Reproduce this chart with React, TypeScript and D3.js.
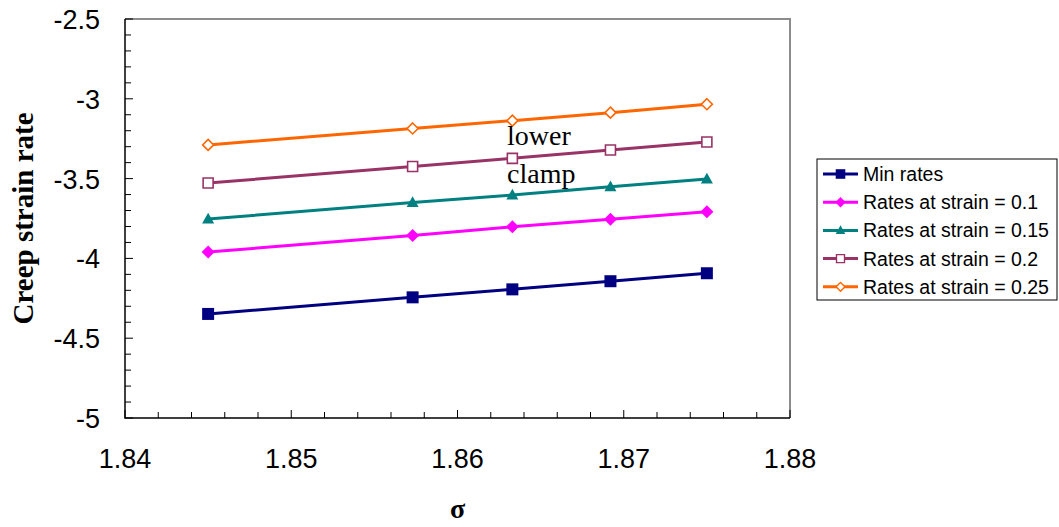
import React, { useRef, useEffect } from 'react';
import * as d3 from 'd3';

// sigma values on the x axis
const sigma = [1.845, 1.8573, 1.8633, 1.8692, 1.875];

// log creep strain rates, one array per series
const minRates = [-4.348, -4.244, -4.194, -4.143, -4.093];
const rates01 = [-3.96, -3.857, -3.802, -3.755, -3.707];
const rates015 = [-3.753, -3.65, -3.603, -3.551, -3.503];
const rates02 = [-3.528, -3.424, -3.373, -3.321, -3.271];
const rates025 = [-3.289, -3.186, -3.137, -3.087, -3.034];

const seriesNames = [
  'Min rates',
  'Rates at strain = 0.1',
  'Rates at strain = 0.15',
  'Rates at strain = 0.2',
  'Rates at strain = 0.25',
];

const xTicks = [1.84, 1.85, 1.86, 1.87, 1.88];
const yTicks = [-5, -4.5, -4, -3.5, -3, -2.5];

// marker outlines centred on 0,0
const markerPath = (shape, r) => {
  if (shape === 'square') return `M${-r},${-r}h${2 * r}v${2 * r}h${-2 * r}Z`;
  if (shape === 'diamond') return `M0,${-r}L${r},0L0,${r}L${-r},0Z`;
  return `M0,${-r * 1.05}L${r},${r * 0.75}L${-r},${r * 0.75}Z`;
};

const App = () => {
  const svgRef = useRef<SVGSVGElement>(null);

  useEffect(() => {
    const svg = d3.select(svgRef.current);
    svg.selectAll('*').remove();

    const left = 125, right = 790, top = 19, bottom = 418;

    const x = d3.scaleLinear().domain([1.84, 1.88]).range([left, right]);
    const y = d3.scaleLinear().domain([-5, -2.5]).range([bottom, top]);

    const series = [
      { name: seriesNames[0], values: minRates, color: '#000080', shape: 'square', filled: true, r: 6 },
      { name: seriesNames[1], values: rates01, color: '#FF00FF', shape: 'diamond', filled: true, r: 6.5 },
      { name: seriesNames[2], values: rates015, color: '#008080', shape: 'triangle', filled: true, r: 6 },
      { name: seriesNames[3], values: rates02, color: '#993366', shape: 'square', filled: false, r: 5 },
      { name: seriesNames[4], values: rates025, color: '#FF6600', shape: 'diamond', filled: false, r: 5.5 },
    ];

    // plot area frame (top / right in grey)
    svg.append('path')
      .attr('d', `M${left},${top}H${right}V${bottom}`)
      .attr('fill', 'none')
      .attr('stroke', '#8c8c8c')
      .attr('stroke-width', 2);

    // minor + major ticks, drawn inward
    const xMinor = d3.range(0, 21).map(i => 1.84 + i * 0.002);
    const yMinor = d3.range(0, 26).map(i => -5 + i * 0.1);

    svg.append('g')
      .selectAll('line')
      .data(xMinor)
      .enter()
      .append('line')
      .attr('x1', d => x(d))
      .attr('x2', d => x(d))
      .attr('y1', bottom)
      .attr('y2', (d, i) => bottom - (i % 5 === 0 ? 8 : 6))
      .attr('stroke', '#000')
      .attr('stroke-width', 1);

    svg.append('g')
      .selectAll('line')
      .data(yMinor)
      .enter()
      .append('line')
      .attr('x1', left)
      .attr('x2', (d, i) => left + (i % 5 === 0 ? 8 : 6))
      .attr('y1', d => y(d))
      .attr('y2', d => y(d))
      .attr('stroke', '#000')
      .attr('stroke-width', 1);

    // axis lines
    svg.append('path')
      .attr('d', `M${left},${top}V${bottom}H${right}`)
      .attr('fill', 'none')
      .attr('stroke', '#000')
      .attr('stroke-width', 1.5);

    // tick labels
    svg.append('g')
      .selectAll('text')
      .data(xTicks)
      .enter()
      .append('text')
      .attr('x', d => x(d))
      .attr('y', bottom + 50)
      .attr('text-anchor', 'middle')
      .style('font-family', 'Liberation Sans, Arial, sans-serif')
      .style('font-size', '27px')
      .text(d => d3.format('.2f')(d));

    svg.append('g')
      .selectAll('text')
      .data(yTicks)
      .enter()
      .append('text')
      .attr('x', left - 25)
      .attr('y', d => y(d) + 10)
      .attr('text-anchor', 'end')
      .style('font-family', 'Liberation Sans, Arial, sans-serif')
      .style('font-size', '27px')
      .text(d => String(d));

    // axis titles
    svg.append('text')
      .attr('transform', `translate(33,${(top + bottom) / 2}) rotate(-90)`)
      .attr('text-anchor', 'middle')
      .style('font-family', 'Liberation Serif, Times New Roman, serif')
      .style('font-weight', 'bold')
      .style('font-size', '29px')
      .text('Creep strain rate');

    svg.append('text')
      .attr('x', (left + right) / 2)
      .attr('y', 518)
      .attr('text-anchor', 'middle')
      .style('font-family', 'Liberation Serif, Times New Roman, serif')
      .style('font-weight', 'bold')
      .style('font-size', '28px')
      .text('σ');

    // series lines and markers
    const line = d3.line<number>()
      .x((d, i) => x(sigma[i]))
      .y(d => y(d));

    series.forEach(s => {
      svg.append('path')
        .attr('d', line(s.values))
        .attr('fill', 'none')
        .attr('stroke', s.color)
        .attr('stroke-width', 3);

      svg.append('g')
        .selectAll('path')
        .data(s.values)
        .enter()
        .append('path')
        .attr('transform', (d, i) => `translate(${x(sigma[i])},${y(d)})`)
        .attr('d', markerPath(s.shape, s.r))
        .attr('fill', s.filled ? s.color : '#fff')
        .attr('stroke', s.color)
        .attr('stroke-width', s.filled ? 0 : 1.6);
    });

    // annotations
    const note = svg.append('g')
      .style('font-family', 'Liberation Serif, Times New Roman, serif')
      .style('font-size', '28px');
    note.append('text').attr('x', 507).attr('y', 145).text('lower');
    note.append('text').attr('x', 507).attr('y', 183).text('clamp');

    // legend
    const legend = svg.append('g').attr('transform', 'translate(817,159)');
    legend.append('rect')
      .attr('width', 240)
      .attr('height', 141)
      .attr('fill', '#fff')
      .attr('stroke', '#000')
      .attr('stroke-width', 1);

    const items = legend.selectAll('.legend-item')
      .data(series)
      .enter()
      .append('g')
      .attr('class', 'legend-item')
      .attr('transform', (d, i) => `translate(0,${15 + i * 28.2})`);

    items.append('line')
      .attr('x1', 6)
      .attr('x2', 41)
      .attr('stroke', d => d.color)
      .attr('stroke-width', 3);

    items.append('path')
      .attr('transform', 'translate(23.5,0)')
      .attr('d', d => markerPath(d.shape, d.r * 0.8))
      .attr('fill', d => (d.filled ? d.color : '#fff'))
      .attr('stroke', d => d.color)
      .attr('stroke-width', d => (d.filled ? 0 : 1.4));

    items.append('text')
      .attr('x', 46)
      .attr('y', 7)
      .style('font-family', 'Liberation Sans, Arial, sans-serif')
      .style('font-size', '19.5px')
      .text(d => d.name);
  }, []);

  return (
    <svg
      ref={svgRef}
      width={1059}
      height={527}
      style={{ position: 'absolute', left: 0, top: 0, background: '#fff' }}
    />
  );
};

export default App;
